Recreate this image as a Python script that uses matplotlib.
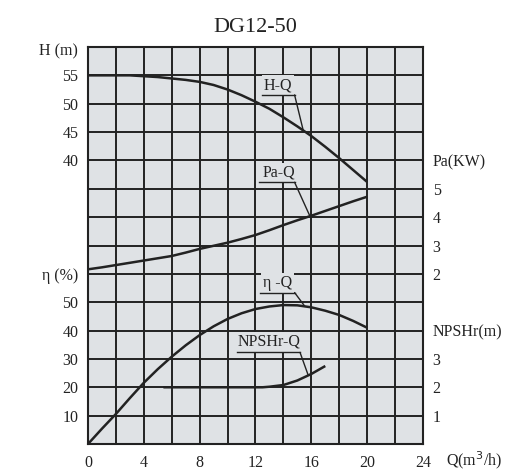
import matplotlib
matplotlib.use("Agg")
import matplotlib.pyplot as plt
import numpy as np

plt.rcParams['font.family'] = ['Liberation Serif', 'DejaVu Serif']

title = "DG12-50"

# Flow rate Q (m3/h)
q = [0, 1, 2, 3, 4, 5, 6, 7, 8, 9, 10, 11, 12, 13, 14, 15, 16, 17, 18, 19, 20]
# Head H (m)
head = [55, 55, 55, 55, 54.85, 54.7, 54.45, 54.2, 53.85, 53.3, 52.5, 51.5,
        50.35, 49.1, 47.6, 46.0, 44.3, 42.4, 40.4, 38.3, 36.2]
# Shaft power Pa (kW)
power = [2.16, 2.23, 2.31, 2.39, 2.47, 2.55, 2.63, 2.75, 2.88, 2.99, 3.10,
         3.23, 3.37, 3.54, 3.72, 3.89, 4.05, 4.22, 4.39, 4.56, 4.72]
# Efficiency (%)
eff = [0, 5.4, 10.6, 16.2, 21.6, 26.4, 30.8, 34.8, 38.4, 41.5, 44.1, 46.1,
       47.6, 48.5, 49.0, 48.9, 48.2, 47.0, 45.5, 43.4, 41.0]
# NPSHr (m)
q_npsh = [5.4, 6, 8, 10, 12, 12.5, 13, 14, 15, 16, 17]
npsh = [2, 2, 2, 2, 2, 2.0, 2.02, 2.08, 2.24, 2.47, 2.75]

x_ticks = list(range(0, 25, 2))
x_labels = ['0', '', '4', '', '8', '', '12', '', '16', '', '20', '', '24']

h_ticks = [40, 45, 50, 55, 59.6]
h_labels = ['40', '45', '50', '55', 'H (m)']
eff_ticks = [10, 20, 30, 40, 50, 60]
eff_labels = ['10', '20', '30', '40', '50', 'η (%)']
pa_ticks = [2, 3, 4, 5, 6]
pa_labels = ['2', '3', '4', '5', 'Pa(KW)']
np_ticks = [1, 2, 3, 4]
np_labels = ['1', '2', '3', 'NPSHr(m)']

BG = '#dfe2e5'
INK = '#222222'
FS = 11.5

fig = plt.figure(figsize=(5.26, 4.70), dpi=100)
fig.patch.set_facecolor('white')
ax = fig.add_axes([88/526, 1-444/470, 335/526, 397/470])
ax.set_facecolor(BG)
ax.set_xlim(0, 24)
ax.set_ylim(0, 14)
ax.set_xticks(x_ticks)
ax.set_xticklabels(x_labels, fontsize=FS, color=INK)
ax.set_yticks(range(0, 15))
ax.set_yticklabels([])
ax.tick_params(length=0)
ax.tick_params(axis='x', pad=8)
ax.grid(True, color=INK, lw=1.4, zorder=0)
ax.set_axisbelow(True)
for s in ax.spines.values():
    s.set_color(INK)
    s.set_linewidth(1.5)

def make_twin(lim, ticks, labels, side):
    t = ax.twinx()
    t.set_ylim(*lim)
    t.set_xlim(0, 24)
    t.set_yticks(ticks)
    t.set_yticklabels(labels, fontsize=FS, color=INK)
    if side == 'left':
        t.yaxis.tick_left()
    else:
        t.yaxis.tick_right()
    t.tick_params(length=0, pad=7)
    t.patch.set_visible(False)
    for s in t.spines.values():
        s.set_visible(False)
    return t

ax_h = make_twin((-10, 60), h_ticks, h_labels, 'left')
ax_e = make_twin((0, 140), eff_ticks, eff_labels, 'left')
ax_p = make_twin((-4, 10), pa_ticks, pa_labels, 'right')
ax_n = make_twin((0, 14), np_ticks, np_labels, 'right')

LW = 1.8
ax_h.plot(q, head, color=INK, lw=LW, solid_capstyle='butt')
ax_p.plot(q, power, color=INK, lw=LW, solid_capstyle='butt')
ax_e.plot(q, eff, color=INK, lw=LW, solid_capstyle='butt')
ax_n.plot(q_npsh, npsh, color=INK, lw=LW, solid_capstyle='butt')

# Curve names with underline and leader to the curve
def curve_label(text, tx, ty, ux0, ux1, uy, tgt_ax, qx, qs, vs):
    ax.text(tx, ty, text, ha='center', va='center', fontsize=FS, color=INK,
            zorder=3, bbox=dict(facecolor=BG, edgecolor='none', pad=1.5))
    ax.plot([ux0, ux1], [uy, uy], color=INK, lw=1.0, zorder=4)
    tgt_ax.annotate('', xy=(qx, np.interp(qx, qs, vs)), xycoords='data',
                    xytext=(ux1, uy), textcoords=ax.transData,
                    arrowprops=dict(arrowstyle='-', color=INK, lw=1.0,
                                    shrinkA=0, shrinkB=0))

curve_label('H-Q', 13.6, 12.65, 12.5, 14.8, 12.31, ax_h, 15.42, q, head)
curve_label('Pa-Q', 13.65, 9.57, 12.27, 14.8, 9.23, ax_p, 15.9, q, power)
curve_label('η -Q', 13.6, 5.68, 12.32, 14.8, 5.34, ax_e, 15.54, q, eff)
curve_label('NPSHr-Q', 13.0, 3.6, 10.7, 15.19, 3.23, ax_n, 15.78, q_npsh, npsh)

ax.text(1.07, -0.04, 'Q(m$^3$/h)', transform=ax.transAxes, ha='left',
        va='center', fontsize=FS, color=INK)

fig.text(255/526, 1-27/470, title, ha='center', va='center', fontsize=16,
         color=INK)

fig.savefig('out.png', dpi=100)
